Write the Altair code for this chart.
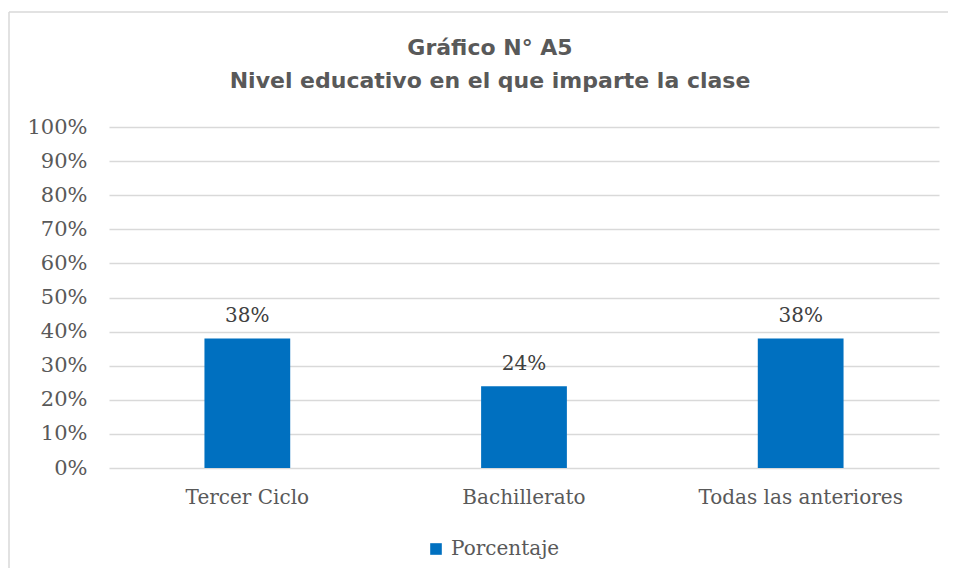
import altair as alt
import pandas as pd

categories = ["Tercer Ciclo", "Bachillerato", "Todas las anteriores"]
values = [0.38, 0.24, 0.38]
series = "Porcentaje"
y_ticks = [0, 0.1, 0.2, 0.3, 0.4, 0.5, 0.6, 0.7, 0.8, 0.9, 1.0]

df = pd.DataFrame({"cat": categories, "val": values, "serie": [series] * len(categories)})

SERIF = "DejaVu Serif"
GRAY = "#595959"
BLUE = "#0070C0"

base = alt.Chart(df)

x_enc = alt.X("cat:N", sort=categories, title=None,
              scale=alt.Scale(paddingInner=0.69, paddingOuter=0.345),
              axis=alt.Axis(labelAngle=0, labelFont=SERIF, labelFontSize=20, labelColor=GRAY,
                            labelPadding=19, ticks=False, domain=False, grid=False,
                            labelLimit=0, labelOverlap=False))
y_enc = alt.Y("val:Q", title=None,
              scale=alt.Scale(domain=[0, 1], nice=False),
              axis=alt.Axis(values=y_ticks, format=".0%", labelFont=SERIF, labelFontSize=21,
                            labelColor=GRAY, labelPadding=22, ticks=False, domain=False,
                            labelOverlap=False, labelLimit=0,
                            grid=True, gridColor="#d9d9d9", gridWidth=1.5))

bars = base.mark_bar(color=BLUE).encode(
    x=x_enc,
    y=y_enc,
    color=alt.Color("serie:N", scale=alt.Scale(range=[BLUE]), title=None,
                    legend=alt.Legend(orient="none", legendX=317, legendY=412, symbolType="square",
                                      symbolSize=135, symbolStrokeWidth=0, labelFont=SERIF,
                                      labelFontSize=20, labelColor=GRAY, padding=0, labelOffset=5,
                                      labelLimit=0)),
)

labels = base.mark_text(dy=-12, baseline="bottom", font=SERIF, fontSize=20, color="#404040").encode(
    x=x_enc,
    y=y_enc,
    text=alt.Text("val:Q", format=".0%"),
)

frame_left = alt.Chart(pd.DataFrame({"a": [0]})).mark_rule(color="#d9d9d9", strokeWidth=1.5).encode(
    x=alt.value(-100), y=alt.value(-115), y2=alt.value(460))
frame_top = alt.Chart(pd.DataFrame({"a": [0]})).mark_rule(color="#d9d9d9", strokeWidth=1.5).encode(
    x=alt.value(-100), x2=alt.value(850), y=alt.value(-115))

chart = alt.layer(frame_left, frame_top, bars, labels).properties(
    width=830,
    height=341,
    autosize=alt.AutoSizeParams(type="none"),
    padding={"left": 101, "top": 119, "right": 9, "bottom": 100},
    title=alt.TitleParams(
        text=["Gráfico N° A5", "Nivel educativo en el que imparte la clase"],
        font="DejaVu Sans", fontSize=22, fontWeight="bold", color=GRAY,
        anchor="middle", frame="group", dx=-34, offset=-99, lineHeight=33,
        baseline="alphabetic",
    ),
).configure_view(stroke=None)

chart.save("out.html", embed_options={"renderer": "svg", "actions": False})
